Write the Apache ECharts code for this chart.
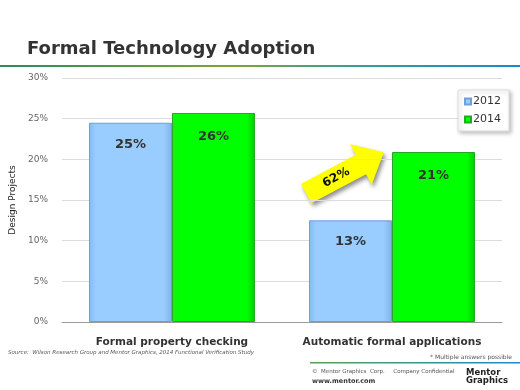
<!DOCTYPE html>
<html><head><meta charset="utf-8">
<script src="https://cdn.jsdelivr.net/npm/echarts@6/dist/echarts.min.js"></script>
<style>html,body{margin:0;padding:0;background:#fff}#c{width:520px;height:390px}</style>
</head><body><div id="c"></div>
<script>
var categories = ['Formal property checking', 'Automatic formal applications'];
var series2012 = [24.5, 12.5];
var series2014 = [25.7, 20.9];
var labels2012 = ['25%', '13%'];
var labels2014 = ['26%', '21%'];
var yTicks = [0, 5, 10, 15, 20, 25, 30];
var growthLabel = '62%';

var chart = echarts.init(document.getElementById('c'));
var F = 'DejaVu Sans';
function lbl(arr){return function(p){return arr[p.dataIndex];};}
chart.setOption({
  animation: false,
  textStyle: {fontFamily: F},
  title: {text: 'Formal Technology Adoption', left: 22, top: 35,
    textStyle: {fontFamily: F, fontSize: 18, fontWeight: 'bold', color: '#333'}},
  legend: {right: 11, top: 90, orient: 'vertical', itemWidth: 6, itemHeight: 6, itemGap: 7,
    backgroundColor: '#fff', borderColor: '#ddd', borderWidth: 1, padding: [6, 8, 6, 6],
    shadowColor: 'rgba(0,0,0,0.25)', shadowBlur: 4, shadowOffsetX: 2, shadowOffsetY: 2,
    textStyle: {fontFamily: F, fontSize: 11, color: '#333', padding: [0,0,0,-3]},
    data: [{name: '2012', icon: 'rect'}, {name: '2014', icon: 'rect'}]},
  grid: {left: 62, right: 18, top: 78, bottom: 68},
  xAxis: {type: 'category', data: categories,
    axisTick: {show: false},
    axisLine: {lineStyle: {color: '#999'}},
    axisLabel: {interval: 0, fontFamily: F, fontSize: 10.5, fontWeight: 'bold', color: '#333', margin: 15}},
  yAxis: {type: 'value', min: 0, max: 30, interval: 5,
    name: 'Design Projects', nameLocation: 'middle', nameGap: 26,
    nameTextStyle: {fontFamily: F, fontSize: 9, color: '#222'},
    axisLine: {show: false}, axisTick: {show: false},
    splitLine: {lineStyle: {color: '#dcdcdc'}},
    axisLabel: {fontFamily: F, fontSize: 9, color: '#666', margin: 14,
      formatter: function(v){return v + '%';}}},
  series: [
    {name: '2012', type: 'bar', data: series2012, barWidth: 83, barGap: '0%',
      itemStyle: {color: new echarts.graphic.LinearGradient(0,0,1,0,[
          {offset:0,color:'#7fbcf0'},{offset:0.08,color:'#99ccff'},{offset:0.9,color:'#99ccff'},{offset:1,color:'#7fb2e6'}]),
        borderColor: '#6f9fd6', borderWidth: 1},
      label: {show: true, position: 'insideTop', distance: 15, formatter: lbl(labels2012),
        fontFamily: F, fontSize: 13, fontWeight: 'bold', color: '#333'}},
    {name: '2014', type: 'bar', data: series2014, barWidth: 83,
      itemStyle: {color: new echarts.graphic.LinearGradient(0,0,1,0,[
          {offset:0,color:'#22e622'},{offset:0.08,color:'#00ff00'},{offset:0.9,color:'#00ff00'},{offset:1,color:'#00cc00'}]),
        borderColor: '#22aa22', borderWidth: 1},
      label: {show: true, position: 'insideTop', distance: 17, formatter: lbl(labels2014),
        fontFamily: F, fontSize: 13, fontWeight: 'bold', color: '#333'}}
  ],
  graphic: [
    {type: 'rect', left: 0, top: 65, shape: {width: 520, height: 2},
      style: {fill: new echarts.graphic.LinearGradient(0,0,1,0,[
        {offset:0,color:'#2e8b57'},{offset:0.45,color:'#7aa63a'},{offset:0.7,color:'#3a9a9a'},{offset:1,color:'#1a8ac8'}])}},
    {type: 'rect', left: 310, top: 362, shape: {width: 210, height: 1.5},
      style: {fill: new echarts.graphic.LinearGradient(0,0,1,0,[
        {offset:0,color:'#5aa050'},{offset:1,color:'#1a8ac8'}])}},
    {type: 'group', x: 345, y: 173, rotation: 28 * Math.PI / 180, children: [
      {type: 'polygon', shape: {points: [[-44,-11],[18,-11],[18,-23],[44,0],[18,23],[18,11],[-44,11]]},
        style: {fill: '#ffff00', shadowColor: 'rgba(0,0,0,0.45)', shadowBlur: 4, shadowOffsetX: 2, shadowOffsetY: 3}},
      {type: 'text', x: -10, y: 0, style: {text: growthLabel, fontFamily: F, fontSize: 12, fontWeight: 'bold',
        fill: '#111', align: 'center', verticalAlign: 'middle'}}
    ]},
    {type: 'text', left: 8, top: 350, style: {text: 'Source:  Wilson Research Group and Mentor Graphics, 2014 Functional Verification Study',
      fontFamily: F, fontSize: 5.5, fontStyle: 'italic', fill: '#555'}},
    {type: 'text', right: 8, top: 354, style: {text: '* Multiple answers possible',
      fontFamily: F, fontSize: 6, fill: '#555'}},
    {type: 'text', left: 312, top: 369, style: {text: '\u00a9  Mentor Graphics  Corp.     Company Confidential',
      fontFamily: F, fontSize: 5.5, fill: '#555'}},
    {type: 'text', left: 312, top: 378, style: {text: 'www.mentor.com',
      fontFamily: F, fontSize: 6.5, fontWeight: 'bold', fill: '#333'}},
    {type: 'text', right: 12, top: 368, style: {text: 'Mentor\nGraphics', lineHeight: 8,
      fontFamily: F, fontSize: 8.5, fontWeight: 'bold', fill: '#222', align: 'right'}}
  ]
});
</script></body></html>
